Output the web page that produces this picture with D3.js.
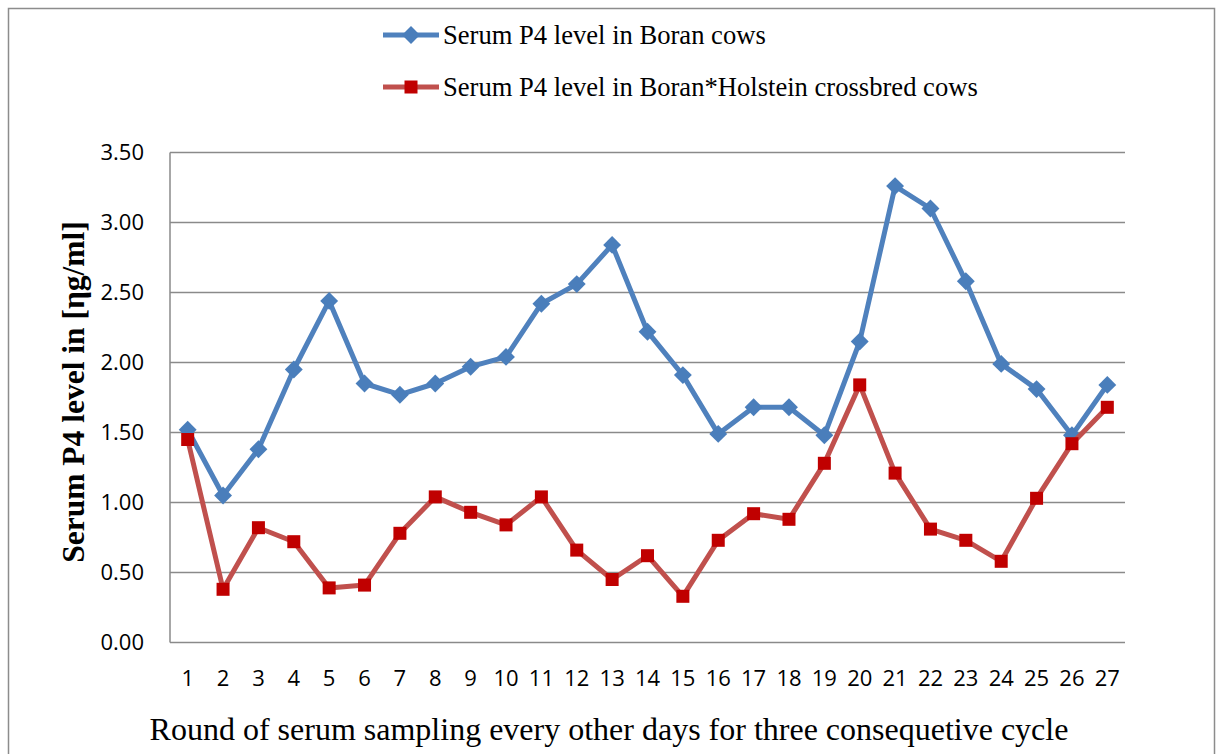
<!DOCTYPE html>
<html>
<head>
<meta charset="utf-8">
<script src="https://cdn.jsdelivr.net/npm/d3@7"></script>
<style>
  html, body { margin: 0; padding: 0; background: #fff; }
  svg { display: block; }
</style>
</head>
<body>
<svg id="chart" width="1222" height="754"></svg>
<script>
// Sampling rounds (every other day, three consecutive cycles)
const rounds = d3.range(1, 28).map(String);

// Mean serum progesterone (ng/ml) per round
const boran = [1.52, 1.05, 1.38, 1.95, 2.44, 1.85, 1.77, 1.85, 1.97, 2.04,
               2.42, 2.56, 2.84, 2.22, 1.91, 1.49, 1.68, 1.68, 1.48, 2.15,
               3.26, 3.10, 2.58, 1.99, 1.81, 1.48, 1.84];
const crossbred = [1.45, 0.38, 0.82, 0.72, 0.39, 0.41, 0.78, 1.04, 0.93, 0.84,
                   1.04, 0.66, 0.45, 0.62, 0.33, 0.73, 0.92, 0.88, 1.28, 1.84,
                   1.21, 0.81, 0.73, 0.58, 1.03, 1.42, 1.68];

const yTicks = [0, 0.5, 1, 1.5, 2, 2.5, 3, 3.5];

const seriesNames = ["Serum P4 level in Boran cows",
                     "Serum P4 level in Boran*Holstein crossbred cows"];

const serif = "'Liberation Serif', 'Times New Roman', serif";
const sans = "'Open Sans', sans-serif";

const svg = d3.select("#chart");

// outer frame
svg.append("rect")
  .attr("x", 8.5).attr("y", 8.5)
  .attr("width", 1206).attr("height", 800)
  .attr("fill", "none").attr("stroke", "#8c8c8c").attr("stroke-width", 1.5);

const plot = { left: 170, right: 1125, top: 152.5, bottom: 642.5 };

const x = d3.scaleBand().domain(rounds).range([plot.left, plot.right]);
const y = d3.scaleLinear().domain([0, 3.5]).range([plot.bottom, plot.top]);

// horizontal gridlines
svg.append("g")
  .selectAll("line")
  .data(yTicks)
  .join("line")
  .attr("x1", plot.left).attr("x2", plot.right)
  .attr("y1", d => y(d)).attr("y2", d => y(d))
  .attr("stroke", "#8a8a8a").attr("stroke-width", 1.5);

// left axis line
svg.append("line")
  .attr("x1", plot.left).attr("x2", plot.left)
  .attr("y1", plot.top).attr("y2", plot.bottom)
  .attr("stroke", "#8a8a8a").attr("stroke-width", 1.5);

// y axis labels
const yAxis = d3.axisLeft(y).tickValues(yTicks).tickFormat(d3.format(".2f")).tickSize(0).tickPadding(26);
const gy = svg.append("g").attr("transform", `translate(${plot.left},0)`).call(yAxis);
gy.select(".domain").remove();
gy.selectAll("text")
  .attr("font-family", sans)
  .attr("font-size", 22).attr("fill", "#000");

// x axis labels
const xAxis = d3.axisBottom(x).tickSize(0).tickPadding(28);
const gx = svg.append("g").attr("transform", `translate(0,${plot.bottom})`).call(xAxis);
gx.select(".domain").remove();
gx.selectAll("text")
  .attr("font-family", sans)
  .attr("font-size", 22).attr("fill", "#000");

const cx = (d, i) => x(rounds[i]) + x.bandwidth() / 2;

const line = d3.line().x((d, i) => cx(d, i)).y(d => y(d));

// Boran series
svg.append("path")
  .datum(boran)
  .attr("d", line)
  .attr("fill", "none").attr("stroke", "#4F81BD").attr("stroke-width", 5)
  .attr("stroke-linejoin", "round");

const diamond = d3.symbol().type(d3.symbolSquare).size(160);
svg.append("g")
  .selectAll("path")
  .data(boran)
  .join("path")
  .attr("d", diamond)
  .attr("transform", (d, i) => `translate(${cx(d, i)},${y(d)}) rotate(45)`)
  .attr("fill", "#4A7EBB");

// Crossbred series
svg.append("path")
  .datum(crossbred)
  .attr("d", line)
  .attr("fill", "none").attr("stroke", "#C0504D").attr("stroke-width", 5)
  .attr("stroke-linejoin", "round");

svg.append("g")
  .selectAll("rect")
  .data(crossbred)
  .join("rect")
  .attr("x", (d, i) => cx(d, i) - 6.5)
  .attr("y", d => y(d) - 6.5)
  .attr("width", 13).attr("height", 13)
  .attr("fill", "#C00000");

// legend
const legend = svg.append("g");
const legendY = [35, 87];
const legendColors = ["#4F81BD", "#C0504D"];
seriesNames.forEach((name, i) => {
  const g = legend.append("g").attr("transform", `translate(0,${legendY[i]})`);
  g.append("line")
    .attr("x1", 383).attr("x2", 439).attr("y1", 0).attr("y2", 0)
    .attr("stroke", legendColors[i]).attr("stroke-width", 5);
  if (i === 0) {
    g.append("path").attr("d", diamond)
      .attr("transform", "translate(411,0) rotate(45)")
      .attr("fill", "#4A7EBB");
  } else {
    g.append("rect").attr("x", 404.5).attr("y", -6.5)
      .attr("width", 13).attr("height", 13).attr("fill", "#C00000");
  }
  g.append("text")
    .attr("x", 443).attr("y", 9)
    .attr("font-family", serif)
    .attr("font-size", 26.6).attr("fill", "#000")
    .text(name);
});

// axis titles
svg.append("text")
  .attr("transform", "translate(84,392) rotate(-90)")
  .attr("text-anchor", "middle")
  .attr("font-family", serif)
  .attr("font-weight", "bold")
  .attr("font-size", 31.5).attr("fill", "#000")
  .text("Serum P4 level in [ηg/ml]");

svg.append("text")
  .attr("x", 609).attr("y", 740)
  .attr("text-anchor", "middle")
  .attr("font-family", serif)
  .attr("font-size", 32).attr("fill", "#000")
  .text("Round of serum sampling every other days for three consequetive cycle");
</script>
</body>
</html>
